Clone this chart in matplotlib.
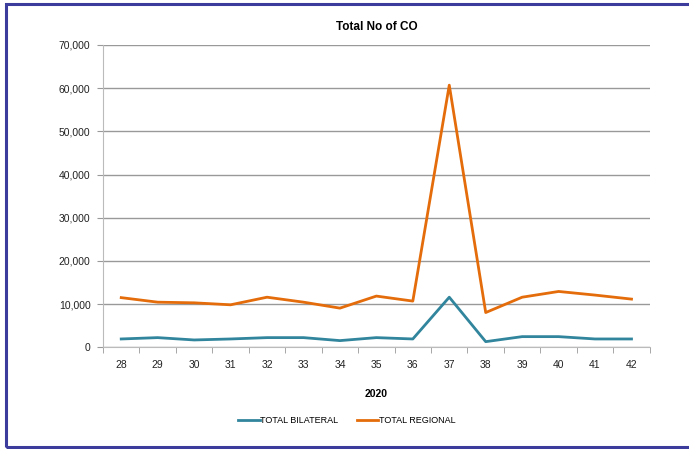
import numpy as np
import matplotlib.pyplot as plt
from matplotlib.ticker import FuncFormatter, FixedLocator

weeks = ['28', '29', '30', '31', '32', '33', '34', '35', '36', '37', '38', '39', '40', '41', '42']
total_bilateral = [1930, 2240, 1700, 1930, 2240, 2240, 1550, 2240, 1930, 11600, 1310, 2470, 2470, 1930, 1930]
total_regional = [11500, 10450, 10300, 9840, 11600, 10450, 9070, 11860, 10700, 60700, 8050, 11600, 12930, 12090, 11160]

plt.rcParams['font.family'] = ['Liberation Sans', 'DejaVu Sans']

fig = plt.figure(figsize=(6.89, 4.49), dpi=100)
ax = fig.add_axes([0.1495, 0.2265, 0.7935, 0.6733])

x = np.arange(len(weeks))
ax.plot(x, total_bilateral, color='#31859C', lw=2.0, label='TOTAL BILATERAL')
ax.plot(x, total_regional, color='#E46C0A', lw=2.0, label='TOTAL REGIONAL')

ax.set_xlim(-0.5, len(weeks) - 0.5)
ax.set_ylim(0, 70000)
ax.set_yticks(np.arange(0, 70001, 10000))
ax.yaxis.set_major_formatter(FuncFormatter(lambda v, p: f'{int(v):,}'))
ax.set_xticks(x)
ax.set_xticklabels(weeks)
ax.xaxis.set_minor_locator(FixedLocator(np.arange(-0.5, len(weeks), 1.0)))
ax.tick_params(axis='x', which='major', length=0, pad=9, labelsize=7.5, colors='#222222')
ax.tick_params(axis='x', which='minor', length=4, color='#999999')
ax.tick_params(axis='y', length=4, color='#999999', labelsize=7.5, colors='#222222', pad=5)

ax.grid(axis='y', color='#999999', lw=1.0)
ax.set_axisbelow(True)
for s in ['top', 'right']:
    ax.spines[s].set_visible(False)
for s in ['left', 'bottom']:
    ax.spines[s].set_color('#bbbbbb')

ax.set_title('Total No of CO', fontsize=8.5, fontweight='bold', pad=11)
ax.set_xlabel('2020', fontsize=7.5, fontweight='bold', labelpad=14)

ax.legend(loc='upper center', bbox_to_anchor=(0.446, -0.2), ncol=2, frameon=False,
          fontsize=6.5, handlelength=2.4, columnspacing=2.0, handletextpad=0.1)

# chart border
fig.patches.append(plt.Rectangle((0.009, 0.004), 1.1, 0.988, transform=fig.transFigure,
                                 fill=False, edgecolor='#3c3c9c', lw=2.2))

fig.savefig('out.png', dpi=100)
